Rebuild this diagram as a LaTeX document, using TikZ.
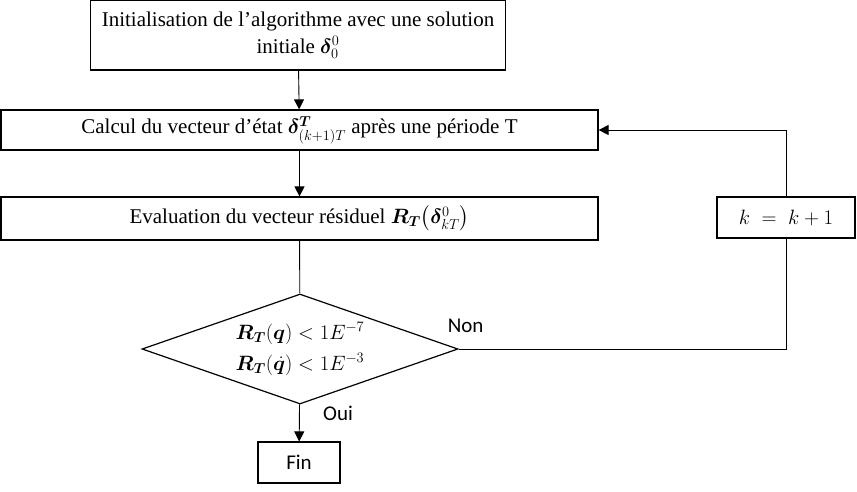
\documentclass[tikz,border=0pt]{standalone}
\usepackage{amsmath,amssymb,bm}
\usepackage{fontspec}
\setmainfont{Liberation Serif}
\newfontfamily\labelfont{Carlito}
\usepackage{tikz}
\usetikzlibrary{arrows.meta, shapes, positioning, calc}
\tikzset{
  etape/.style={rectangle, draw=black, line width=1.2pt, fill=white,
                minimum height=40pt, align=center, inner sep=2pt,
                font=\fontsize{21}{27}\selectfont},
  test/.style={diamond, draw=black, line width=1.2pt, aspect=2.9, inner sep=0pt,
               minimum width=316pt, minimum height=110pt, align=center,
               font=\fontsize{21}{29}\selectfont},
  lbl/.style={font=\labelfont\fontsize{21}{24}\selectfont, inner sep=0pt},
  fleche/.style={-{Triangle[length=10pt, width=10pt]}, line width=0.9pt},
  trait/.style={line width=0.9pt}
}

\begin{document}
\begin{tikzpicture}[x=1pt, y=-1pt]
  \useasboundingbox (0,0) rectangle (857,491);
  \node[etape, minimum width=415pt, minimum height=70pt] (init) at (298,35)
    {Initialisation de l'algorithme avec une solution\\initiale $\boldsymbol{\delta}_0^0$};
  \node[etape, minimum width=597pt] (calc) at (299.5,130)
    {Calcul du vecteur d'état $\boldsymbol{\delta}_{(k+1)T}^{\boldsymbol{T}}$ après une période T};
  \node[etape, minimum width=597pt, minimum height=43pt] (eval) at (299.5,218.5)
    {Evaluation du vecteur résiduel $\boldsymbol{R_T}\bigl(\boldsymbol{\delta}_{kT}^0\bigr)$};
  \node[test] (crit) at (300,349)
    {$\boldsymbol{R_T}(\boldsymbol{q})<1E^{-7}$\\[2pt]$\boldsymbol{R_T}(\dot{\boldsymbol{q}})<1E^{-3}$};
  \node[etape, minimum width=138pt, minimum height=41pt] (incr) at (786,217.5) {$k\;=\;k+1$};
  \node[etape, font=\labelfont\fontsize{21}{24}\selectfont,
        minimum width=82pt, minimum height=41pt] (fin) at (299,462.5) {Fin};
  \coordinate (coude) at (incr.south |- crit.east);
  % liaisons
  \draw[fleche] (init) -- (calc);
  \draw[fleche] (calc) -- (eval);
  \draw[trait] (eval) -- (crit);
  \draw[fleche] (crit) -- (fin);
  \draw[trait] (crit.east) -- (coude) -- (incr);
  \draw[fleche] (incr) |- (calc.east);
  \node[lbl, anchor=south west] (non) at ([shift={(-11,-16)}]crit.east) {Non};
  \node[lbl, anchor=west] (oui) at (323,413) {Oui};
\end{tikzpicture}
\end{document}
